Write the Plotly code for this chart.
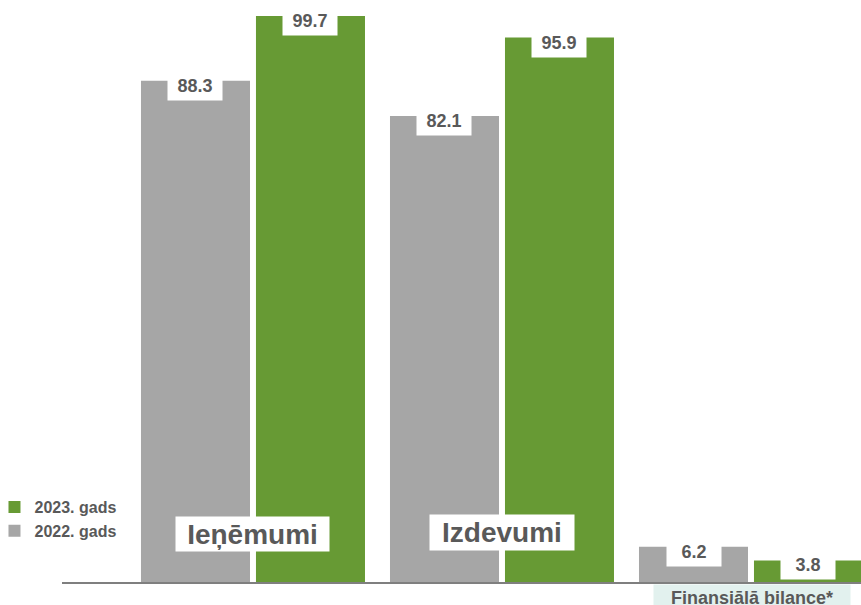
import plotly.graph_objects as go

categories = ["Ieņēmumi", "Izdevumi", "Finansiālā bilance*"]
years = ["2022. gads", "2023. gads"]
values_2022 = [88.3, 82.1, 6.2]
values_2023 = [99.7, 95.9, 3.8]

gray = "#a6a6a6"
green = "#679a34"
text_color = "#595959"
font_family = "Liberation Sans, Arial, sans-serif"

x_pos = list(range(len(categories)))
bar_w = 0.4378
offsets = [-0.4498, 0.012]

fig = go.Figure()
for name, vals, color, off, rank in [
    (years[0], values_2022, gray, offsets[0], 2),
    (years[1], values_2023, green, offsets[1], 1),
]:
    fig.add_trace(
        go.Bar(
            x=x_pos,
            y=vals,
            name=name,
            legendrank=rank,
            width=bar_w,
            offset=off,
            marker=dict(color=color, line=dict(width=0)),
            hoverinfo="skip",
        )
    )

annotations = []
# value labels in white tabs at top of bars
for vals, off in [(values_2022, offsets[0]), (values_2023, offsets[1])]:
    for i, v in enumerate(vals):
        annotations.append(
            dict(
                x=x_pos[i] + off + bar_w / 2,
                y=v,
                xref="x",
                yref="y",
                text=f"<b>{v:.1f}</b>",
                showarrow=False,
                yanchor="top",
                yshift=10,
                width=54,
                height=28,
                bgcolor="white",
                borderpad=0,
                font=dict(size=18, color=text_color, family=font_family),
            )
        )

# category labels
annotations.append(
    dict(
        x=x_pos[0], y=0.0825, xref="x", yref="paper",
        xanchor="center", yanchor="middle",
        text="<b>" + categories[0] + "</b>", showarrow=False,
        width=153, height=34, bgcolor="white", borderpad=0,
        font=dict(size=28, color=text_color, family=font_family),
    )
)
annotations.append(
    dict(
        x=x_pos[1], y=0.0859, xref="x", yref="paper",
        xanchor="center", yanchor="middle",
        text="<b>" + categories[1] + "</b>", showarrow=False,
        width=144, height=35, bgcolor="white", borderpad=0,
        font=dict(size=28, color=text_color, family=font_family),
    )
)
annotations.append(
    dict(
        x=x_pos[2] + 0.004, y=-0.0035, xref="x", yref="paper",
        xanchor="center", yanchor="top",
        text="<b>" + categories[2] + "</b>", showarrow=False,
        width=196, height=26, bgcolor="#e2f1ee", borderpad=0,
        font=dict(size=18, color=text_color, family=font_family),
    )
)

fig.update_layout(
    width=861,
    height=605,
    margin=dict(l=62, r=0, t=0, b=23, autoexpand=False),
    plot_bgcolor="white",
    paper_bgcolor="white",
    barmode="overlay",
    showlegend=True,
    legend=dict(
        xref="paper", yref="paper",
        x=-0.0845, y=0.158, xanchor="left", yanchor="top",
        font=dict(size=16, color=text_color, family=font_family, weight="bold"),
        itemwidth=30, bgcolor="rgba(0,0,0,0)",
    ),
    xaxis=dict(
        range=[-0.767, 2.4418],
        showticklabels=False, showgrid=False, zeroline=False,
        showline=True, linecolor="#7f7f7f", linewidth=2, ticks="",
    ),
    yaxis=dict(
        range=[0, 102.52],
        showticklabels=False, showgrid=False, zeroline=False, showline=False,
    ),
    annotations=annotations,
)

# drop the default page margin so the figure fills the window
fig.write_html(
    "out.html",
    config={"displayModeBar": False},
    post_script="document.body.style.margin='0';document.body.style.overflow='hidden';",
)
